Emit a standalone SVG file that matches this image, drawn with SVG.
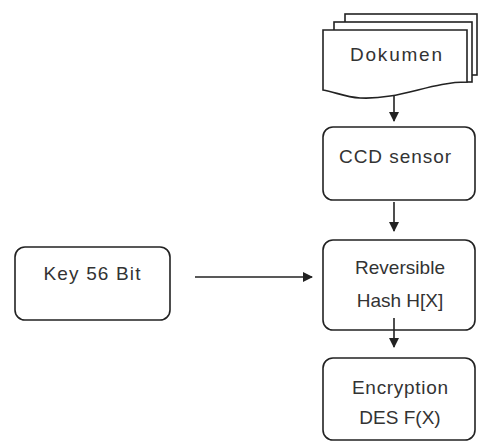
<svg xmlns="http://www.w3.org/2000/svg" width="478" height="447" viewBox="0 0 478 447">
<style>
.box{fill:#fff;stroke:#222;stroke-width:1.6}
.t{font-family:"Liberation Sans",Arial,sans-serif;font-size:19px;fill:#333;text-anchor:middle}
.c{stroke:#222;stroke-width:1.6;fill:none}
</style>
<defs>
<marker id="ah" viewBox="0 0 10 10" refX="9" refY="5" markerWidth="10" markerHeight="10" markerUnits="userSpaceOnUse" orient="auto">
<path d="M0,0 L10,5 L0,10 Z" fill="#222"/>
</marker>
</defs>
<rect width="478" height="447" fill="#fff"/>
<g id="dokumen">
<rect class="box" x="345" y="14" width="132" height="61"/>
<rect class="box" x="334" y="22" width="138" height="60"/>
<path class="box" d="M323,30 H467 V82 C430,82 400,100 360,98 C345,97 335,92 323,90 Z"/>
<text class="t" x="396" y="61" textLength="92">Dokumen</text>
</g>
<g id="ccd">
<rect class="box" x="323" y="127" width="152" height="73" rx="10"/>
<text class="t" x="395" y="163" textLength="112">CCD sensor</text>
</g>
<g id="hash">
<rect class="box" x="323" y="240" width="152" height="90" rx="10"/>
<text class="t" x="400" y="274" textLength="90">Reversible</text>
<text class="t" x="400" y="307">Hash H[X]</text>
</g>
<g id="enc">
<rect class="box" x="323" y="358" width="152" height="82" rx="10"/>
<text class="t" x="400" y="394" textLength="96">Encryption</text>
<text class="t" x="400" y="424">DES F(X)</text>
</g>
<g id="key">
<rect class="box" x="15" y="247" width="155" height="73" rx="10"/>
<text class="t" x="92" y="280" textLength="97">Key 56 Bit</text>
</g>
<g id="connectors">
<line class="c" x1="394" y1="96" x2="394" y2="121" marker-end="url(#ah)"/>
<line class="c" x1="394" y1="202" x2="394" y2="231" marker-end="url(#ah)"/>
<line class="c" x1="394" y1="318" x2="394" y2="347" marker-end="url(#ah)"/>
<line class="c" x1="195" y1="277" x2="312" y2="277" marker-end="url(#ah)"/>
</g>
</svg>
